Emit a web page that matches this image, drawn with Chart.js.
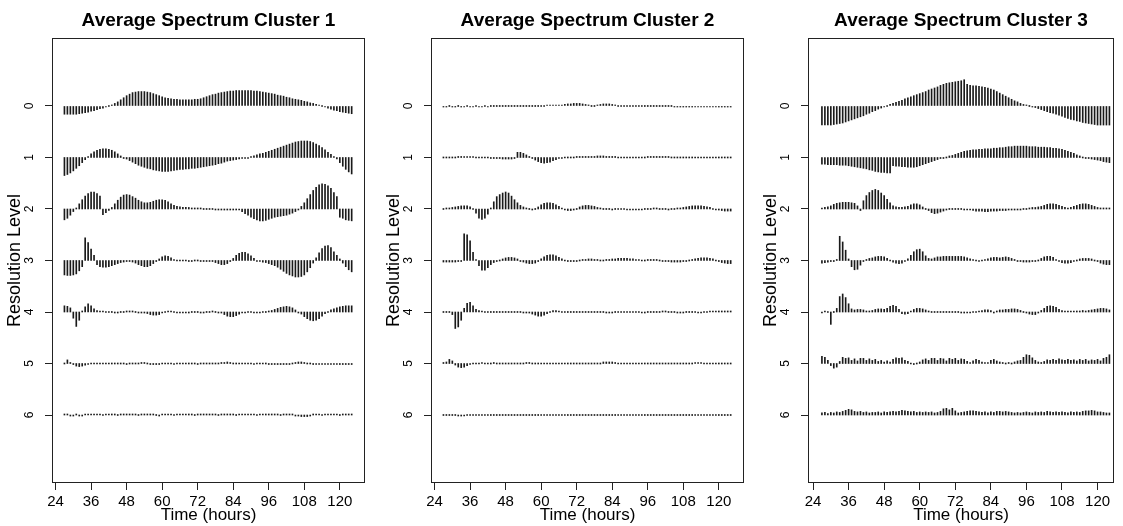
<!DOCTYPE html>
<html>
<head>
<meta charset="utf-8">
<script src="https://cdn.jsdelivr.net/npm/chart.js@4.4.1/dist/chart.umd.min.js"></script>
<style>
  html, body { margin: 0; padding: 0; background: #fff; }
  #wrap { position: relative; width: 1123px; height: 526px; overflow: hidden; }
  canvas { position: absolute; top: 0; }
</style>
</head>
<body>
<div id="wrap">
  <canvas id="c1" width="374" height="526" style="left:0px"></canvas>
  <canvas id="c2" width="374" height="526" style="left:379px"></canvas>
  <canvas id="c3" width="367" height="526" style="left:756px"></canvas>
</div>
<script>
// time of each coefficient (hours)
const hours = [27, 28, 29, 30, 31, 32, 33, 34, 35, 36, 37, 38, 39, 40, 41, 42, 43, 44, 45, 46,
  47, 48, 49, 50, 51, 52, 53, 54, 55, 56, 57, 58, 59, 60, 61, 62, 63, 64, 65, 66,
  67, 68, 69, 70, 71, 72, 73, 74, 75, 76, 77, 78, 79, 80, 81, 82, 83, 84, 85, 86,
  87, 88, 89, 90, 91, 92, 93, 94, 95, 96, 97, 98, 99, 100, 101, 102, 103, 104, 105, 106,
  107, 108, 109, 110, 111, 112, 113, 114, 115, 116, 117, 118, 119, 120, 121, 122, 123, 124];
const levels = [0, 1, 2, 3, 4, 5, 6];
const hourTicks = [24, 36, 48, 60, 72, 84, 96, 108, 120];

// spectrum values per resolution level (in level units, positive = drawn upwards)
const cluster1 = [
  [-0.16,-0.16,-0.16,-0.16,-0.16,-0.15,-0.14,-0.13,-0.12,-0.10,
   -0.09,-0.07,-0.05,-0.04,-0.02,0.00,0.02,0.05,0.08,0.12,
   0.16,0.20,0.23,0.26,0.27,0.28,0.28,0.28,0.27,0.26,
   0.24,0.22,0.20,0.18,0.16,0.15,0.14,0.13,0.13,0.12,
   0.12,0.12,0.12,0.12,0.13,0.13,0.14,0.16,0.18,0.20,
   0.22,0.23,0.25,0.26,0.27,0.28,0.29,0.29,0.30,0.30,
   0.30,0.30,0.30,0.30,0.29,0.29,0.28,0.27,0.26,0.25,
   0.24,0.23,0.21,0.20,0.19,0.17,0.16,0.14,0.13,0.12,
   0.11,0.09,0.08,0.06,0.05,0.03,0.02,0.00,-0.02,-0.04,
   -0.06,-0.08,-0.09,-0.11,-0.12,-0.13,-0.14,-0.15],
  [-0.35,-0.33,-0.30,-0.26,-0.21,-0.16,-0.10,-0.04,0.02,0.07,
   0.11,0.14,0.16,0.17,0.17,0.16,0.14,0.11,0.07,0.03,
   0.00,-0.03,-0.06,-0.09,-0.12,-0.15,-0.17,-0.19,-0.21,-0.22,
   -0.24,-0.25,-0.26,-0.27,-0.27,-0.27,-0.26,-0.25,-0.24,-0.23,
   -0.23,-0.22,-0.22,-0.21,-0.21,-0.20,-0.19,-0.18,-0.17,-0.16,
   -0.15,-0.14,-0.12,-0.11,-0.09,-0.07,-0.06,-0.05,-0.04,-0.03,
   -0.02,-0.01,0.00,0.02,0.03,0.05,0.07,0.08,0.10,0.12,
   0.14,0.16,0.18,0.20,0.22,0.24,0.26,0.28,0.30,0.31,
   0.32,0.32,0.32,0.31,0.29,0.26,0.23,0.19,0.15,0.10,
   0.06,0.02,-0.03,-0.10,-0.17,-0.23,-0.28,-0.32],
  [-0.21,-0.18,-0.12,-0.05,0.02,0.10,0.18,0.25,0.30,0.33,
   0.33,0.30,0.25,-0.11,-0.07,-0.03,0.03,0.10,0.17,0.23,
   0.27,0.28,0.27,0.24,0.21,0.17,0.14,0.12,0.12,0.13,
   0.15,0.17,0.18,0.18,0.17,0.14,0.10,0.07,0.05,0.04,
   0.03,0.03,0.03,0.02,0.02,0.02,0.02,0.01,0.01,0.01,
   0.01,0.00,-0.01,-0.01,-0.02,-0.02,-0.01,-0.01,0.00,-0.02,
   -0.05,-0.09,-0.12,-0.16,-0.19,-0.21,-0.23,-0.23,-0.22,-0.20,
   -0.18,-0.16,-0.15,-0.14,-0.13,-0.12,-0.10,-0.08,-0.05,-0.01,
   0.05,0.12,0.20,0.28,0.36,0.42,0.47,0.49,0.48,0.45,
   0.40,0.32,0.24,-0.16,-0.18,-0.21,-0.22,-0.23],
  [-0.28,-0.29,-0.29,-0.28,-0.26,-0.20,-0.12,0.44,0.35,0.22,
   0.10,-0.08,-0.12,-0.13,-0.13,-0.12,-0.10,-0.08,-0.06,-0.04,
   -0.03,-0.02,-0.02,-0.03,-0.05,-0.08,-0.10,-0.12,-0.12,-0.10,
   -0.06,-0.02,0.03,0.07,0.09,0.08,0.05,0.02,0.01,0.01,
   0.01,0.01,0.00,0.00,0.01,0.01,0.00,-0.01,-0.01,0.00,
   -0.02,-0.04,-0.06,-0.08,-0.08,-0.06,-0.02,0.04,0.10,0.14,
   0.16,0.16,0.13,0.09,0.04,0.00,-0.02,-0.03,-0.04,-0.06,
   -0.08,-0.10,-0.13,-0.17,-0.21,-0.25,-0.28,-0.30,-0.32,-0.32,
   -0.31,-0.28,-0.22,-0.14,-0.05,0.05,0.15,0.23,0.28,0.29,
   0.25,0.17,0.10,0.03,-0.05,-0.12,-0.18,-0.22],
  [0.12,0.11,0.08,-0.12,-0.28,-0.16,0.02,0.10,0.16,0.12,
   0.06,0.03,0.02,0.02,0.01,0.01,0.01,0.00,0.00,0.01,
   0.01,0.02,0.02,0.02,0.01,0.00,-0.01,-0.02,-0.03,-0.05,
   -0.06,-0.06,-0.05,-0.02,0.01,0.02,0.02,0.01,0.00,0.00,
   0.00,0.00,0.00,0.01,0.01,0.01,0.00,0.00,0.01,0.01,
   0.02,0.01,0.00,-0.02,-0.05,-0.08,-0.09,-0.09,-0.07,-0.04,
   -0.01,0.00,0.01,0.01,0.00,0.00,0.00,0.01,0.01,0.02,
   0.03,0.05,0.07,0.09,0.10,0.11,0.10,0.08,0.04,0.00,
   -0.04,-0.09,-0.13,-0.16,-0.17,-0.16,-0.13,-0.08,-0.03,0.01,
   0.04,0.06,0.08,0.10,0.11,0.12,0.12,0.12],
  [0.01,0.07,0.02,-0.02,-0.05,-0.06,-0.05,-0.03,-0.01,0.01,
   0.01,0.01,0.01,0.01,0.01,0.01,0.01,0.01,0.01,0.01,
   0.01,0.00,0.01,0.01,0.01,0.01,0.02,0.02,0.01,-0.01,
   -0.02,-0.02,-0.01,0.01,0.01,0.01,0.01,0.00,0.01,0.01,
   0.01,0.01,0.01,0.01,0.01,0.00,0.01,0.01,0.01,0.01,
   0.01,0.01,0.01,0.02,0.02,0.03,0.02,0.01,0.01,0.01,
   0.01,0.01,0.01,0.01,0.00,0.01,0.01,0.01,0.01,0.00,
   -0.01,-0.01,-0.02,-0.02,-0.01,-0.01,0.00,0.01,0.02,0.03,
   0.03,0.02,0.01,0.01,0.00,0.00,-0.01,-0.01,0.00,0.00,
   -0.01,-0.01,-0.01,-0.01,0.00,-0.01,-0.01,-0.01],
  [0.02,0.02,-0.02,-0.02,0.02,-0.02,-0.02,0.02,0.02,0.02,
   0.02,0.02,0.02,0.01,0.02,0.02,0.02,0.02,0.01,0.02,
   0.02,0.02,0.02,0.02,0.02,0.01,0.02,0.02,0.02,0.02,
   0.02,0.01,-0.02,0.02,0.02,0.02,0.02,0.01,0.02,0.02,
   0.02,0.02,0.02,0.02,0.01,0.02,0.02,0.02,0.02,0.02,
   0.02,0.02,0.01,0.02,0.02,0.02,0.02,0.02,0.01,0.02,
   0.02,0.02,0.02,0.02,0.02,0.01,0.02,0.02,0.02,0.02,
   0.02,0.02,0.02,0.01,0.02,0.02,0.02,0.02,-0.02,-0.02,
   -0.03,-0.03,-0.03,-0.02,0.02,0.02,0.02,0.01,0.02,0.02,
   0.02,0.02,0.02,0.01,0.02,0.02,0.02,0.02]
];

const cluster2 = [
  [-0.02,-0.02,-0.01,-0.02,-0.02,-0.01,-0.02,-0.02,-0.01,-0.02,
   -0.02,-0.01,-0.02,-0.02,-0.01,-0.02,-0.01,-0.01,0.01,0.01,
   0.01,0.01,0.01,0.01,0.01,0.01,0.01,0.01,0.01,0.01,
   0.01,0.01,0.01,0.01,0.01,0.02,0.02,0.02,0.02,0.02,
   0.02,0.03,0.04,0.04,0.05,0.05,0.05,0.04,0.03,0.02,
   0.01,0.01,0.02,0.03,0.04,0.04,0.04,0.03,0.02,0.01,
   0.01,0.01,0.01,0.01,0.01,0.01,0.01,0.01,0.01,0.01,
   0.01,0.01,0.01,0.01,0.01,0.01,0.01,-0.01,-0.02,-0.02,
   -0.02,-0.02,-0.02,-0.02,-0.02,-0.02,-0.02,-0.02,-0.02,-0.02,
   -0.02,-0.02,-0.02,-0.02,-0.02,-0.02,-0.02,-0.02],
  [0.01,0.01,0.01,0.01,0.01,0.02,0.02,0.02,0.02,0.02,
   0.02,0.01,0.01,0.01,0.01,0.01,0.00,-0.01,-0.02,-0.02,
   -0.03,-0.03,-0.03,-0.03,-0.02,0.10,0.10,0.08,0.05,0.02,
   -0.01,-0.05,-0.08,-0.10,-0.11,-0.10,-0.09,-0.06,-0.04,-0.02,
   -0.01,0.01,0.01,0.01,0.01,0.02,0.02,0.02,0.02,0.02,
   0.02,0.02,0.03,0.03,0.03,0.02,0.02,0.02,0.02,0.01,
   0.01,0.01,0.01,0.01,0.01,0.01,0.01,0.01,0.01,0.02,
   0.02,0.02,0.02,0.02,0.02,0.02,0.02,0.01,0.01,0.01,
   0.01,0.01,0.01,0.01,0.01,0.01,0.01,0.01,0.01,0.01,
   0.01,0.01,0.01,0.01,0.01,0.01,0.01,0.01],
  [0.01,0.02,0.02,0.03,0.04,0.05,0.06,0.06,0.06,0.04,
   0.01,-0.08,-0.18,-0.20,-0.18,-0.10,0.02,0.14,0.24,0.28,
   0.31,0.33,0.31,0.25,0.18,0.12,0.07,0.04,0.02,0.01,
   0.00,0.01,0.04,0.08,0.11,0.12,0.12,0.11,0.08,0.05,
   0.02,-0.01,-0.03,-0.03,-0.02,0.01,0.04,0.06,0.07,0.07,
   0.06,0.05,0.03,0.02,0.01,0.01,0.01,0.00,0.01,0.01,
   0.01,0.01,0.00,-0.01,-0.02,-0.02,-0.01,0.00,0.01,0.01,
   0.01,0.02,0.02,0.01,0.01,0.01,0.00,0.01,0.01,0.02,
   0.02,0.03,0.04,0.05,0.06,0.06,0.06,0.06,0.05,0.04,
   0.03,0.01,-0.01,-0.02,-0.03,-0.04,-0.04,-0.04],
  [-0.03,-0.03,-0.03,-0.03,-0.03,-0.02,0.00,0.52,0.50,0.38,
   0.16,0.02,-0.10,-0.19,-0.19,-0.14,-0.08,-0.04,-0.02,0.01,
   0.03,0.05,0.06,0.06,0.05,0.03,0.00,-0.03,-0.05,-0.06,
   -0.06,-0.05,-0.02,0.03,0.07,0.10,0.11,0.11,0.09,0.06,
   0.03,0.01,-0.01,-0.02,-0.02,-0.01,0.01,0.02,0.02,0.03,
   0.03,0.02,0.02,0.01,0.01,0.02,0.02,0.03,0.03,0.04,
   0.04,0.04,0.04,0.03,0.03,0.02,0.02,0.01,0.01,0.02,
   0.02,0.02,0.02,0.01,0.00,-0.01,-0.02,-0.03,-0.03,-0.03,
   -0.03,-0.02,-0.01,0.01,0.02,0.03,0.04,0.05,0.05,0.05,
   0.04,0.03,0.01,-0.02,-0.04,-0.05,-0.06,-0.06],
  [0.01,0.01,0.01,-0.05,-0.32,-0.29,-0.16,0.07,0.17,0.19,
   0.12,0.05,0.03,0.02,0.01,0.01,0.01,0.01,0.01,0.01,
   0.01,0.01,0.01,0.01,0.01,0.01,0.01,0.00,-0.01,-0.02,
   -0.04,-0.06,-0.08,-0.08,-0.06,-0.03,0.01,0.03,0.03,0.02,
   0.01,0.01,0.01,0.01,0.01,0.01,0.01,0.01,0.01,0.01,
   0.01,0.01,0.01,0.01,0.01,-0.01,-0.01,-0.01,0.01,0.01,
   0.01,0.01,0.01,0.01,0.01,0.01,0.01,-0.01,-0.01,0.01,
   0.01,0.01,0.01,0.01,0.02,0.02,0.01,0.01,0.01,-0.01,
   -0.01,-0.01,0.01,0.01,0.01,0.01,-0.01,-0.01,0.01,0.01,
   0.02,0.02,0.02,0.02,0.02,0.02,0.02,0.02],
  [0.02,0.03,0.08,0.05,-0.03,-0.07,-0.08,-0.07,-0.04,-0.02,
   0.01,0.01,0.01,0.02,0.01,0.01,0.01,0.02,0.01,0.01,
   0.01,0.01,0.01,0.01,0.01,0.01,0.01,0.01,0.02,0.02,
   0.01,0.01,0.01,0.01,0.01,0.01,0.01,0.01,0.01,0.01,
   0.01,0.01,0.01,0.01,0.01,0.01,0.01,0.01,0.01,0.01,
   0.01,0.01,0.01,0.01,0.03,0.03,0.03,0.03,0.02,0.01,
   0.01,0.01,0.01,0.01,0.01,0.01,0.01,0.01,0.01,0.01,
   0.01,0.01,0.01,0.01,0.01,0.01,0.01,0.01,0.01,0.01,
   0.01,0.01,0.01,0.01,0.01,0.02,0.02,0.02,0.01,0.01,
   0.01,0.01,0.01,0.01,0.01,0.01,0.01,0.01],
  [0.01,0.01,0.01,0.01,0.01,-0.01,-0.02,-0.01,0.01,0.01,
   0.01,0.01,0.01,0.01,0.01,0.01,0.01,0.01,0.01,0.01,
   0.01,0.01,0.01,0.01,0.01,0.01,0.01,0.01,0.01,0.01,
   0.01,0.01,0.01,0.01,0.01,0.01,0.01,0.01,0.01,0.01,
   0.01,0.01,0.01,0.01,0.01,0.01,0.01,0.01,0.01,0.01,
   0.01,0.01,0.01,0.01,0.01,0.01,0.01,0.01,0.01,0.01,
   0.01,0.01,0.01,0.01,0.01,0.01,0.01,0.01,0.01,0.01,
   0.01,0.01,0.01,0.01,0.01,0.01,0.01,0.01,0.01,0.01,
   0.01,0.01,0.01,0.01,0.01,0.01,0.01,0.01,0.01,0.01,
   0.01,0.01,0.01,0.01,0.01,0.01,0.01,0.01]
];

const cluster3 = [
  [-0.37,-0.37,-0.37,-0.37,-0.36,-0.35,-0.34,-0.33,-0.31,-0.29,
   -0.27,-0.25,-0.23,-0.21,-0.19,-0.16,-0.14,-0.11,-0.09,-0.06,
   -0.04,-0.02,0.01,0.03,0.05,0.07,0.09,0.11,0.14,0.16,
   0.18,0.20,0.22,0.24,0.26,0.28,0.31,0.33,0.35,0.37,
   0.40,0.42,0.44,0.45,0.46,0.47,0.48,0.49,0.51,0.42,
   0.40,0.39,0.39,0.38,0.37,0.36,0.35,0.33,0.31,0.28,
   0.25,0.22,0.19,0.16,0.13,0.10,0.08,0.05,0.03,0.02,
   0.00,-0.02,-0.03,-0.05,-0.07,-0.09,-0.11,-0.13,-0.14,-0.16,
   -0.18,-0.20,-0.22,-0.24,-0.26,-0.27,-0.29,-0.30,-0.32,-0.33,
   -0.34,-0.35,-0.36,-0.37,-0.37,-0.37,-0.37,-0.37],
  [-0.13,-0.13,-0.14,-0.14,-0.14,-0.14,-0.15,-0.15,-0.15,-0.16,
   -0.17,-0.18,-0.19,-0.20,-0.21,-0.22,-0.24,-0.25,-0.27,-0.28,
   -0.29,-0.29,-0.30,-0.30,-0.16,-0.17,-0.17,-0.18,-0.18,-0.19,
   -0.19,-0.19,-0.18,-0.16,-0.14,-0.12,-0.10,-0.08,-0.06,-0.04,
   -0.02,0.00,0.01,0.03,0.04,0.06,0.08,0.10,0.12,0.13,
   0.14,0.15,0.15,0.16,0.16,0.17,0.17,0.17,0.18,0.18,
   0.19,0.19,0.20,0.21,0.21,0.22,0.22,0.22,0.22,0.22,
   0.21,0.21,0.21,0.20,0.20,0.20,0.19,0.19,0.18,0.18,
   0.17,0.16,0.14,0.12,0.10,0.08,0.05,0.03,0.01,0.00,
   -0.02,-0.03,-0.04,-0.05,-0.06,-0.08,-0.09,-0.10],
  [0.02,0.03,0.04,0.06,0.09,0.11,0.12,0.13,0.13,0.13,
   0.12,0.11,0.06,-0.03,0.16,0.26,0.32,0.36,0.38,0.36,
   0.31,0.26,0.19,0.12,0.06,0.04,0.03,0.03,0.04,0.05,
   0.08,0.10,0.10,0.08,0.04,0.01,-0.03,-0.07,-0.09,-0.08,
   -0.06,-0.04,-0.02,0.01,0.01,0.01,0.01,0.01,0.00,-0.01,
   -0.02,-0.03,-0.04,-0.04,-0.04,-0.05,-0.05,-0.04,-0.04,-0.04,
   -0.03,-0.03,-0.03,-0.02,-0.02,-0.02,-0.01,0.00,0.01,0.01,
   0.02,0.03,0.03,0.04,0.05,0.07,0.09,0.10,0.10,0.09,
   0.07,0.05,0.03,0.02,0.03,0.05,0.07,0.09,0.10,0.10,
   0.09,0.07,0.05,0.03,0.02,0.02,0.02,0.02],
  [-0.05,-0.04,-0.03,-0.02,-0.02,0.02,0.47,0.36,0.20,0.03,
   -0.12,-0.18,-0.17,-0.09,-0.02,0.02,0.04,0.05,0.07,0.08,
   0.08,0.07,0.04,0.01,-0.03,-0.05,-0.06,-0.05,-0.02,0.03,
   0.10,0.17,0.21,0.22,0.17,0.09,0.04,0.03,0.05,0.07,
   0.07,0.08,0.08,0.08,0.08,0.08,0.08,0.08,0.07,0.05,
   0.03,0.02,0.01,0.00,0.01,0.02,0.03,0.05,0.06,0.06,
   0.05,0.06,0.07,0.06,0.04,0.02,0.00,-0.02,-0.03,-0.03,
   -0.03,-0.02,-0.01,0.01,0.04,0.07,0.08,0.08,0.06,0.02,
   -0.02,-0.04,-0.05,-0.05,-0.04,-0.02,0.01,0.03,0.04,0.04,
   0.04,0.03,0.01,-0.02,-0.05,-0.07,-0.08,-0.08],
  [-0.02,0.02,0.01,-0.24,0.01,0.07,0.30,0.35,0.28,0.16,
   0.06,0.04,0.05,0.05,0.04,0.02,0.02,0.03,0.05,0.06,
   0.06,0.05,0.07,0.11,0.13,0.11,0.05,-0.03,-0.04,-0.03,
   0.02,0.05,0.07,0.07,0.06,0.04,0.02,0.01,0.01,0.01,
   0.01,0.01,0.01,0.01,0.01,0.01,0.01,-0.01,-0.02,-0.02,
   -0.01,0.01,0.01,0.02,0.03,0.04,0.04,0.03,-0.01,0.02,
   0.04,0.04,0.05,0.05,0.06,0.06,0.05,0.03,0.01,-0.02,
   -0.04,-0.05,-0.05,-0.02,0.03,0.07,0.11,0.12,0.11,0.09,
   0.05,0.03,0.02,0.02,0.02,0.02,0.02,0.02,0.03,0.02,
   0.03,0.04,0.05,0.06,0.07,0.07,0.06,0.04],
  [0.14,0.12,0.06,-0.04,-0.09,-0.07,0.04,0.12,0.10,0.11,
   0.06,0.09,0.05,0.10,0.10,0.06,0.09,0.06,0.08,0.04,
   0.06,0.03,0.05,0.03,0.08,0.11,0.10,0.11,0.06,0.04,
   0.01,-0.02,0.01,0.03,0.07,0.09,0.06,0.10,0.10,0.06,
   0.10,0.09,0.05,0.10,0.08,0.10,0.06,0.09,0.08,0.04,
   0.02,0.05,0.08,0.06,0.03,0.02,0.02,0.06,0.08,0.05,
   0.03,0.02,0.01,0.02,0.01,0.03,0.05,0.06,0.12,0.17,
   0.16,0.11,0.06,0.03,0.02,0.04,0.07,0.06,0.08,0.06,
   0.09,0.07,0.06,0.08,0.06,0.07,0.05,0.08,0.06,0.08,
   0.05,0.07,0.06,0.08,0.05,0.10,0.12,0.17],
  [0.04,0.05,0.03,0.05,0.04,0.06,0.05,0.07,0.09,0.11,
   0.10,0.07,0.06,0.07,0.05,0.06,0.04,0.05,0.05,0.06,
   0.04,0.06,0.05,0.06,0.07,0.06,0.07,0.09,0.08,0.07,
   0.06,0.07,0.05,0.06,0.05,0.06,0.05,0.06,0.04,0.05,
   0.07,0.12,0.13,0.10,0.13,0.08,0.04,0.05,0.06,0.07,
   0.08,0.08,0.07,0.06,0.05,0.06,0.04,0.06,0.05,0.07,
   0.07,0.06,0.07,0.06,0.05,0.04,0.05,0.04,0.05,0.06,
   0.05,0.04,0.06,0.05,0.06,0.05,0.07,0.06,0.05,0.06,
   0.05,0.06,0.05,0.04,0.06,0.05,0.06,0.05,0.07,0.08,
   0.08,0.09,0.08,0.06,0.06,0.05,0.04,0.04]
];

Chart.defaults.font.family = 'Arial, "Liberation Sans", sans-serif';
Chart.defaults.color = '#000';

// box, rotated level labels and bold panel title
const decorPlugin = {
  id: 'decor',
  afterDraw(chart, args, opts) {
    const ctx = chart.ctx;
    const a = chart.chartArea;
    const y = chart.scales.y;
    ctx.save();
    ctx.strokeStyle = '#222';
    ctx.lineWidth = 1;
    ctx.strokeRect(Math.round(a.left) + 0.5, Math.round(a.top) + 0.5,
      Math.round(a.right - a.left) - 1, Math.round(a.bottom - a.top) - 1);

    ctx.fillStyle = '#000';
    ctx.font = '12px Arial, "Liberation Sans", sans-serif';
    ctx.textAlign = 'center';
    ctx.textBaseline = 'middle';
    levels.forEach(lv => {
      ctx.save();
      ctx.translate(a.left - 22, y.getPixelForValue(lv));
      ctx.rotate(-Math.PI / 2);
      ctx.fillText(String(lv), 0, 0);
      ctx.restore();
    });

    ctx.font = 'bold 19px Arial, "Liberation Sans", sans-serif';
    ctx.textBaseline = 'alphabetic';
    ctx.fillText(opts.text, (a.left + a.right) / 2, 26);
    ctx.restore();
  }
};

function drawPanel(id, title, rows, xMin, xMax) {
  const datasets = rows.map((row, lv) => ({
    data: row.map((v, i) => ({ x: hours[i], y: [lv, lv - v] })),
    backgroundColor: '#1a1a1a',
    barThickness: 1,
    minBarLength: 1,
    grouped: false
  }));

  return new Chart(document.getElementById(id), {
    type: 'bar',
    data: { datasets: datasets },
    options: {
      responsive: false,
      animation: false,
      devicePixelRatio: 1,
      layout: { padding: { left: 0, right: 9, top: 38, bottom: 0 } },
      scales: {
        x: {
          type: 'linear',
          min: xMin,
          max: xMax,
          offset: false,
          afterBuildTicks: s => { s.ticks = hourTicks.map(v => ({ value: v })); },
          afterFit: s => { s.height = 43; },
          grid: { drawOnChartArea: false, tickLength: 7, color: '#222', offset: false },
          border: { display: false },
          ticks: { font: { size: 15 }, padding: 3, maxRotation: 0, autoSkip: false },
          title: { display: true, text: 'Time (hours)', font: { size: 17 }, padding: { top: 0, bottom: 0 } }
        },
        y: {
          type: 'linear',
          reverse: true,
          min: -1.32,
          max: 7.32,
          afterBuildTicks: s => { s.ticks = levels.map(v => ({ value: v })); },
          afterFit: s => { s.width = 52; },
          grid: { drawOnChartArea: false, tickLength: 7, color: '#222' },
          border: { display: false },
          ticks: { display: false },
          title: { display: true, text: 'Resolution Level', font: { size: 18 }, padding: { top: 4, bottom: 0 } }
        }
      },
      plugins: {
        legend: { display: false },
        tooltip: { enabled: false },
        decor: { text: title }
      }
    },
    plugins: [decorPlugin]
  });
}

drawPanel('c1', 'Average Spectrum Cluster 1', cluster1, 22.8, 128.5);
drawPanel('c2', 'Average Spectrum Cluster 2', cluster2, 22.8, 128.5);
drawPanel('c3', 'Average Spectrum Cluster 3', cluster3, 22.3, 125.55);
</script>
</body>
</html>
